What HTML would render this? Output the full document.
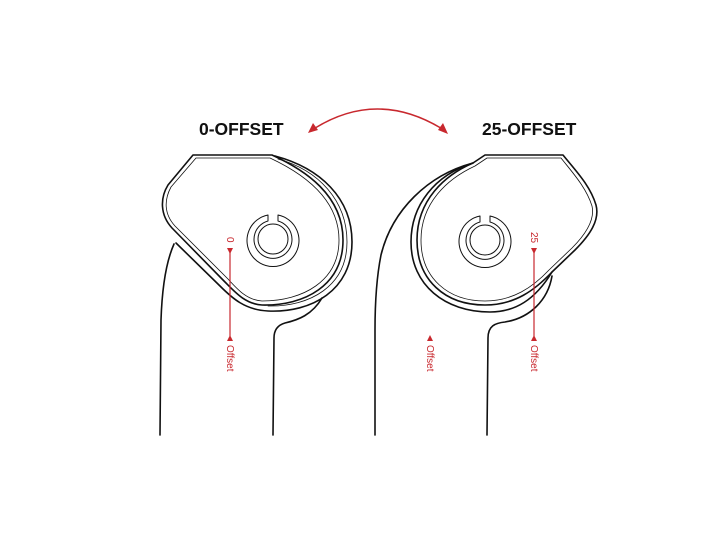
<!DOCTYPE html>
<html><head><meta charset="utf-8"><style>
html,body{margin:0;padding:0;background:#fff;}
svg{display:block;}
</style></head><body>
<svg width="720" height="540" viewBox="0 0 720 540" xmlns="http://www.w3.org/2000/svg">
<g fill="none" stroke="#111" stroke-width="1.6" stroke-linejoin="round" stroke-linecap="round">
<path d="M193,155 L272,155 C305,170 343,195 343,240 C343,285 305,306 262,305 C245,304 235,292 224,281 L172,228 C160,215 160,198 168,185 Z"/>
<path d="M196,158 L270,158 C300,172 339,197 339,240 C339,281 303,301 262,301 C247,300 238,290 228,279 L175,226 C164,214 164,200 171,187 Z" stroke-width="0.8"/>
<path d="M275,156 C320,168 352,198 352,242 C352,290 312,313 268,311 C245,310 232,298 220,286 L176,243"/>
<path d="M278,159 C318,170 347,200 347,242 C347,286 310,307 268,306" stroke-width="0.8"/>
<path d="M174,244 C166,262 162,290 161,320 L160,435"/>
<path d="M322,298 C312,315 298,320 285,323 C278,325 274,330 274,338 L273,435"/>
<path d="M268,215 A26,26 0 1 0 278,215 L278,221 A19,19 0 1 1 268,221 Z" stroke-width="1"/>
<circle cx="273" cy="239" r="15" stroke-width="1"/>
<path d="M485,155 L563,155 C575,170 590,185 596,205 C600,220 590,235 575,250 L552,272 C535,290 515,305 485,305 C445,305 417,280 417,240 C417,200 445,175 473,163 Z"/>
<path d="M487,158 L561,158 C572,172 586,187 592,206 C595,219 587,233 572,248 L549,270 C533,287 513,301 485,301 C448,301 421,278 421,240 C421,203 447,179 475,166 Z" stroke-width="0.8"/>
<path d="M473,163 C435,175 411,205 411,242 C411,285 445,312 490,312 C515,312 535,300 552,272"/>
<path d="M473,163 C428,175 392,210 381,255 C377,275 375,300 375,330 L375,435"/>
<path d="M552,276 C548,300 530,318 505,322 C495,323 488,326 488,338 L487,435"/>
<path d="M480,216 A26,26 0 1 0 490,216 L490,222 A19,19 0 1 1 480,222 Z" stroke-width="1"/>
<circle cx="485" cy="240" r="15" stroke-width="1"/>
</g>
<g stroke="#c8282e" fill="#c8282e">
<path d="M312,130 Q377,88 444,130" fill="none" stroke-width="1.5"/>
<path d="M308,133 L313,123 L318,130 Z" stroke="none"/>
<path d="M448,134 L438,130 L443,123 Z" stroke="none"/>
<line x1="230" y1="252" x2="230" y2="336" stroke-width="1.2"/>
<path d="M227,248 L233,248 L230,254 Z" stroke="none"/>
<path d="M227,341 L233,341 L230,335 Z" stroke="none"/>
<line x1="534" y1="252" x2="534" y2="336" stroke-width="1.2"/>
<path d="M531,248 L537,248 L534,254 Z" stroke="none"/>
<path d="M531,341 L537,341 L534,335 Z" stroke="none"/>
<path d="M427,341 L433,341 L430,335 Z" stroke="none"/>
</g>
<g font-family="Liberation Sans, sans-serif" fill="#c8282e" font-size="10">
<text transform="translate(227,237) rotate(90)">0</text>
<text transform="translate(531,232) rotate(90)">25</text>
<text transform="translate(227,345) rotate(90)">Offset</text>
<text transform="translate(531,345) rotate(90)">Offset</text>
<text transform="translate(427,345) rotate(90)">Offset</text>
</g>
<g font-family="Liberation Sans, sans-serif" font-weight="bold" font-size="17.5" fill="#111">
<text x="199" y="135">0-OFFSET</text>
<text x="482" y="135">25-OFFSET</text>
</g>
</svg>
</body></html>
